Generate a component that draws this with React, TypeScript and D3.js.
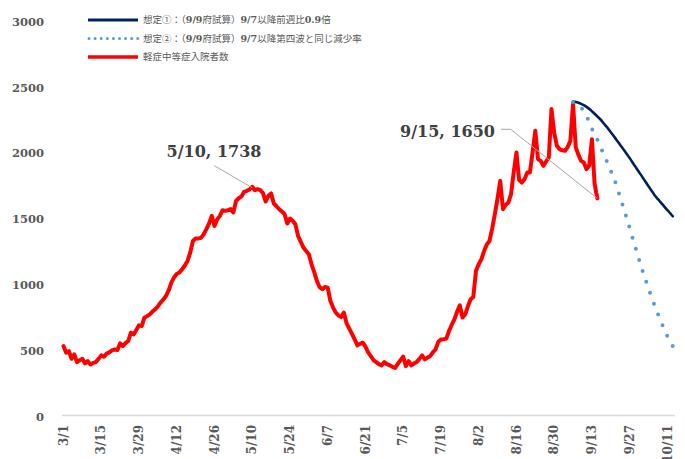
import React from "react";
import * as d3 from "d3";

// Daily inpatients (mild/moderate), index 0 = 3/1
const actual: number[] = [
  527, 477, 489, 431, 464, 406, 420, 431, 396, 413,
  388, 400, 406, 430, 457, 447, 470, 480, 495, 502,
  497, 548, 527, 550, 566, 629, 616, 650, 685, 680,
  743, 755, 769, 790, 807, 830, 858, 880, 908, 950,
  1010, 1050, 1075, 1086, 1111, 1140, 1174, 1238, 1326, 1345,
  1345, 1350, 1377, 1416, 1460, 1517, 1441, 1490, 1517, 1560,
  1555, 1560, 1568, 1543, 1630, 1651, 1665, 1700, 1707, 1718,
  1738, 1712, 1720, 1712, 1690, 1626, 1670, 1687, 1611, 1590,
  1568, 1550, 1530, 1459, 1497, 1480, 1454, 1365, 1320, 1276,
  1250, 1225, 1149, 1090, 1022, 975, 959, 977, 972, 870,
  820, 782, 760, 748, 782, 700, 660, 620, 578, 533,
  545, 553, 523, 480, 451, 420, 406, 390, 381, 406,
  390, 381, 370, 362, 393, 420, 447, 375, 413, 381,
  395, 406, 430, 457, 426, 440, 451, 480, 502, 560,
  578, 580, 584, 642, 690, 731, 790, 837, 744, 769,
  830, 883, 900, 1100, 1150, 1187, 1250, 1300, 1326, 1420,
  1530, 1650, 1783, 1568, 1600, 1618, 1682, 1850, 1999, 1790,
  1770, 1796, 1846, 1846, 2000, 2164, 1948, 1935, 1897, 1930,
  1961, 2329, 2150, 2049, 2024, 2015, 2011, 2040, 2087, 2367,
  2037, 1980, 1935, 1923, 1872, 1900, 2100, 1760, 1650,
];

const projStart = 189;
// Scenario 1: weekly ratio 0.9
const scenario1: number[] = [
  2385, 2382, 2376, 2368, 2358, 2345, 2330, 2312, 2293, 2273,
  2253, 2230, 2205, 2180, 2153, 2126, 2098, 2070, 2042, 2014,
  1986, 1956, 1925, 1895, 1864, 1834, 1803, 1772, 1742, 1712,
  1682, 1656, 1632, 1608, 1584, 1560, 1537, 1514,
];
// Scenario 2: same decline rate as 4th wave
const scenario2: number[] = [
  2382, 2375, 2362, 2340, 2310, 2275, 2228, 2180, 2140, 2097,
  2050, 2002, 1955, 1910, 1860, 1808, 1755, 1690, 1625, 1560,
  1492, 1425, 1355, 1285, 1218, 1150, 1085, 1025, 965, 905,
  850, 795, 745, 695, 648, 601, 560, 527,
];

const tickLabels: string[] = [
  "3/1", "3/15", "3/29", "4/12", "4/26", "5/10", "5/24", "6/7",
  "6/21", "7/5", "7/19", "8/2", "8/16", "8/30", "9/13", "9/27", "10/11",
];
const yTicks: number[] = [0, 500, 1000, 1500, 2000, 2500, 3000];
const lastIndex = 226;

const serif = "'DejaVu Serif', 'Liberation Serif', serif";
const cjk = "'Noto Sans CJK JP', 'Noto Sans', sans-serif";

export default function App() {
  const x = d3.scaleLinear().domain([0, lastIndex]).range([63.5, 672.8]);
  const y = d3.scaleLinear().domain([0, 3000]).range([415.5, 20.7]);

  const redLine = d3
    .line<number>()
    .x((_, i) => x(i))
    .y((d) => y(d))(actual) as string;
  const s1Line = d3
    .line<number>()
    .x((_, i) => x(projStart + i))
    .y((d) => y(d))
    .curve(d3.curveMonotoneX)(scenario1) as string;
  const s2Line = d3
    .line<number>()
    .x((_, i) => x(projStart + i))
    .y((d) => y(d))
    .curve(d3.curveMonotoneX)(scenario2) as string;

  const peakIdx = 70;
  const endIdx = actual.length - 1;

  const legendRow = (yy: number, parts: [string, boolean][]) => (
    <text x={143} y={yy} dy="0.35em" fontSize={9.5} fill="#595959">
      {parts.map(([t, b], i) =>
        b ? (
          <tspan key={i} fontFamily={serif} fontWeight="bold">
            {t}
          </tspan>
        ) : (
          <tspan key={i} fontFamily={cjk}>
            {t}
          </tspan>
        )
      )}
    </text>
  );

  return (
    <div style={{ position: "absolute", left: 0, top: 0 }}>
      <svg width={685} height={459} style={{ display: "block", background: "#fff" }}>
        <rect width={685} height={459} fill="#fff" />
        {/* x axis line */}
        <line x1={62} x2={675} y1={y(0)} y2={y(0)} stroke="#D9D9D9" strokeWidth={1.3} />
        {/* y tick labels */}
        {yTicks.map((t) => (
          <text
            key={t}
            x={44}
            y={y(t) + 1}
            dy="0.35em"
            textAnchor="end"
            fontFamily={serif}
            fontWeight="bold"
            fontSize={11.5}
            fill="#595959"
          >
            {t}
          </text>
        ))}
        {/* x tick labels */}
        {tickLabels.map((t, i) => (
          <text
            key={t}
            transform={`translate(${x(i * 14)},425) rotate(-90)`}
            dy="0.35em"
            textAnchor="end"
            fontFamily={serif}
            fontWeight="bold"
            fontSize={12}
            fill="#595959"
          >
            {t}
          </text>
        ))}
        {/* series */}
        <path d={redLine} fill="none" stroke="#FF0000" strokeWidth={4} strokeLinejoin="round" strokeLinecap="round" />
        <path d={s1Line} fill="none" stroke="#002060" strokeWidth={2.6} strokeLinecap="round" />
        <path d={s2Line} fill="none" stroke="#5B9BD5" strokeWidth={4} pathLength={23} strokeDasharray="0 0.999" strokeLinecap="round" />

        {/* annotations */}
        <line x1={214.3} y1={165.7} x2={x(peakIdx)} y2={y(actual[peakIdx]) + 1} stroke="#A6A6A6" strokeWidth={1} />
        <text x={214} y={156.7} textAnchor="middle" fontFamily={serif} fontWeight="bold" fontSize={16} fill="#404040">
          5/10, 1738
        </text>
        <polyline
          points={`501,129.3 510.7,129.3 ${x(endIdx)},${y(actual[endIdx])}`}
          fill="none"
          stroke="#A6A6A6"
          strokeWidth={1}
        />
        <text x={495} y={137} textAnchor="end" fontFamily={serif} fontWeight="bold" fontSize={16} fill="#404040">
          9/15, 1650
        </text>

        {/* legend */}
        <line x1={88} x2={138} y1={20} y2={20} stroke="#002060" strokeWidth={3} />
        {legendRow(20, [
          ["想定①：（", false],
          ["9/9", true],
          ["府試算）", false],
          ["9/7", true],
          ["以降前週比", false],
          ["0.9", true],
          ["倍", false],
        ])}
        <line x1={89} x2={138} y1={38.5} y2={38.5} stroke="#5B9BD5" strokeWidth={3} strokeDasharray="0 6.1" strokeLinecap="round" />
        {legendRow(38.5, [
          ["想定②：（", false],
          ["9/9", true],
          ["府試算）", false],
          ["9/7", true],
          ["以降第四波と同じ減少率", false],
        ])}
        <line x1={88} x2={138} y1={57} y2={57} stroke="#FF0000" strokeWidth={3.5} />
        {legendRow(57, [["軽症中等症入院者数", false]])}
      </svg>
    </div>
  );
}
